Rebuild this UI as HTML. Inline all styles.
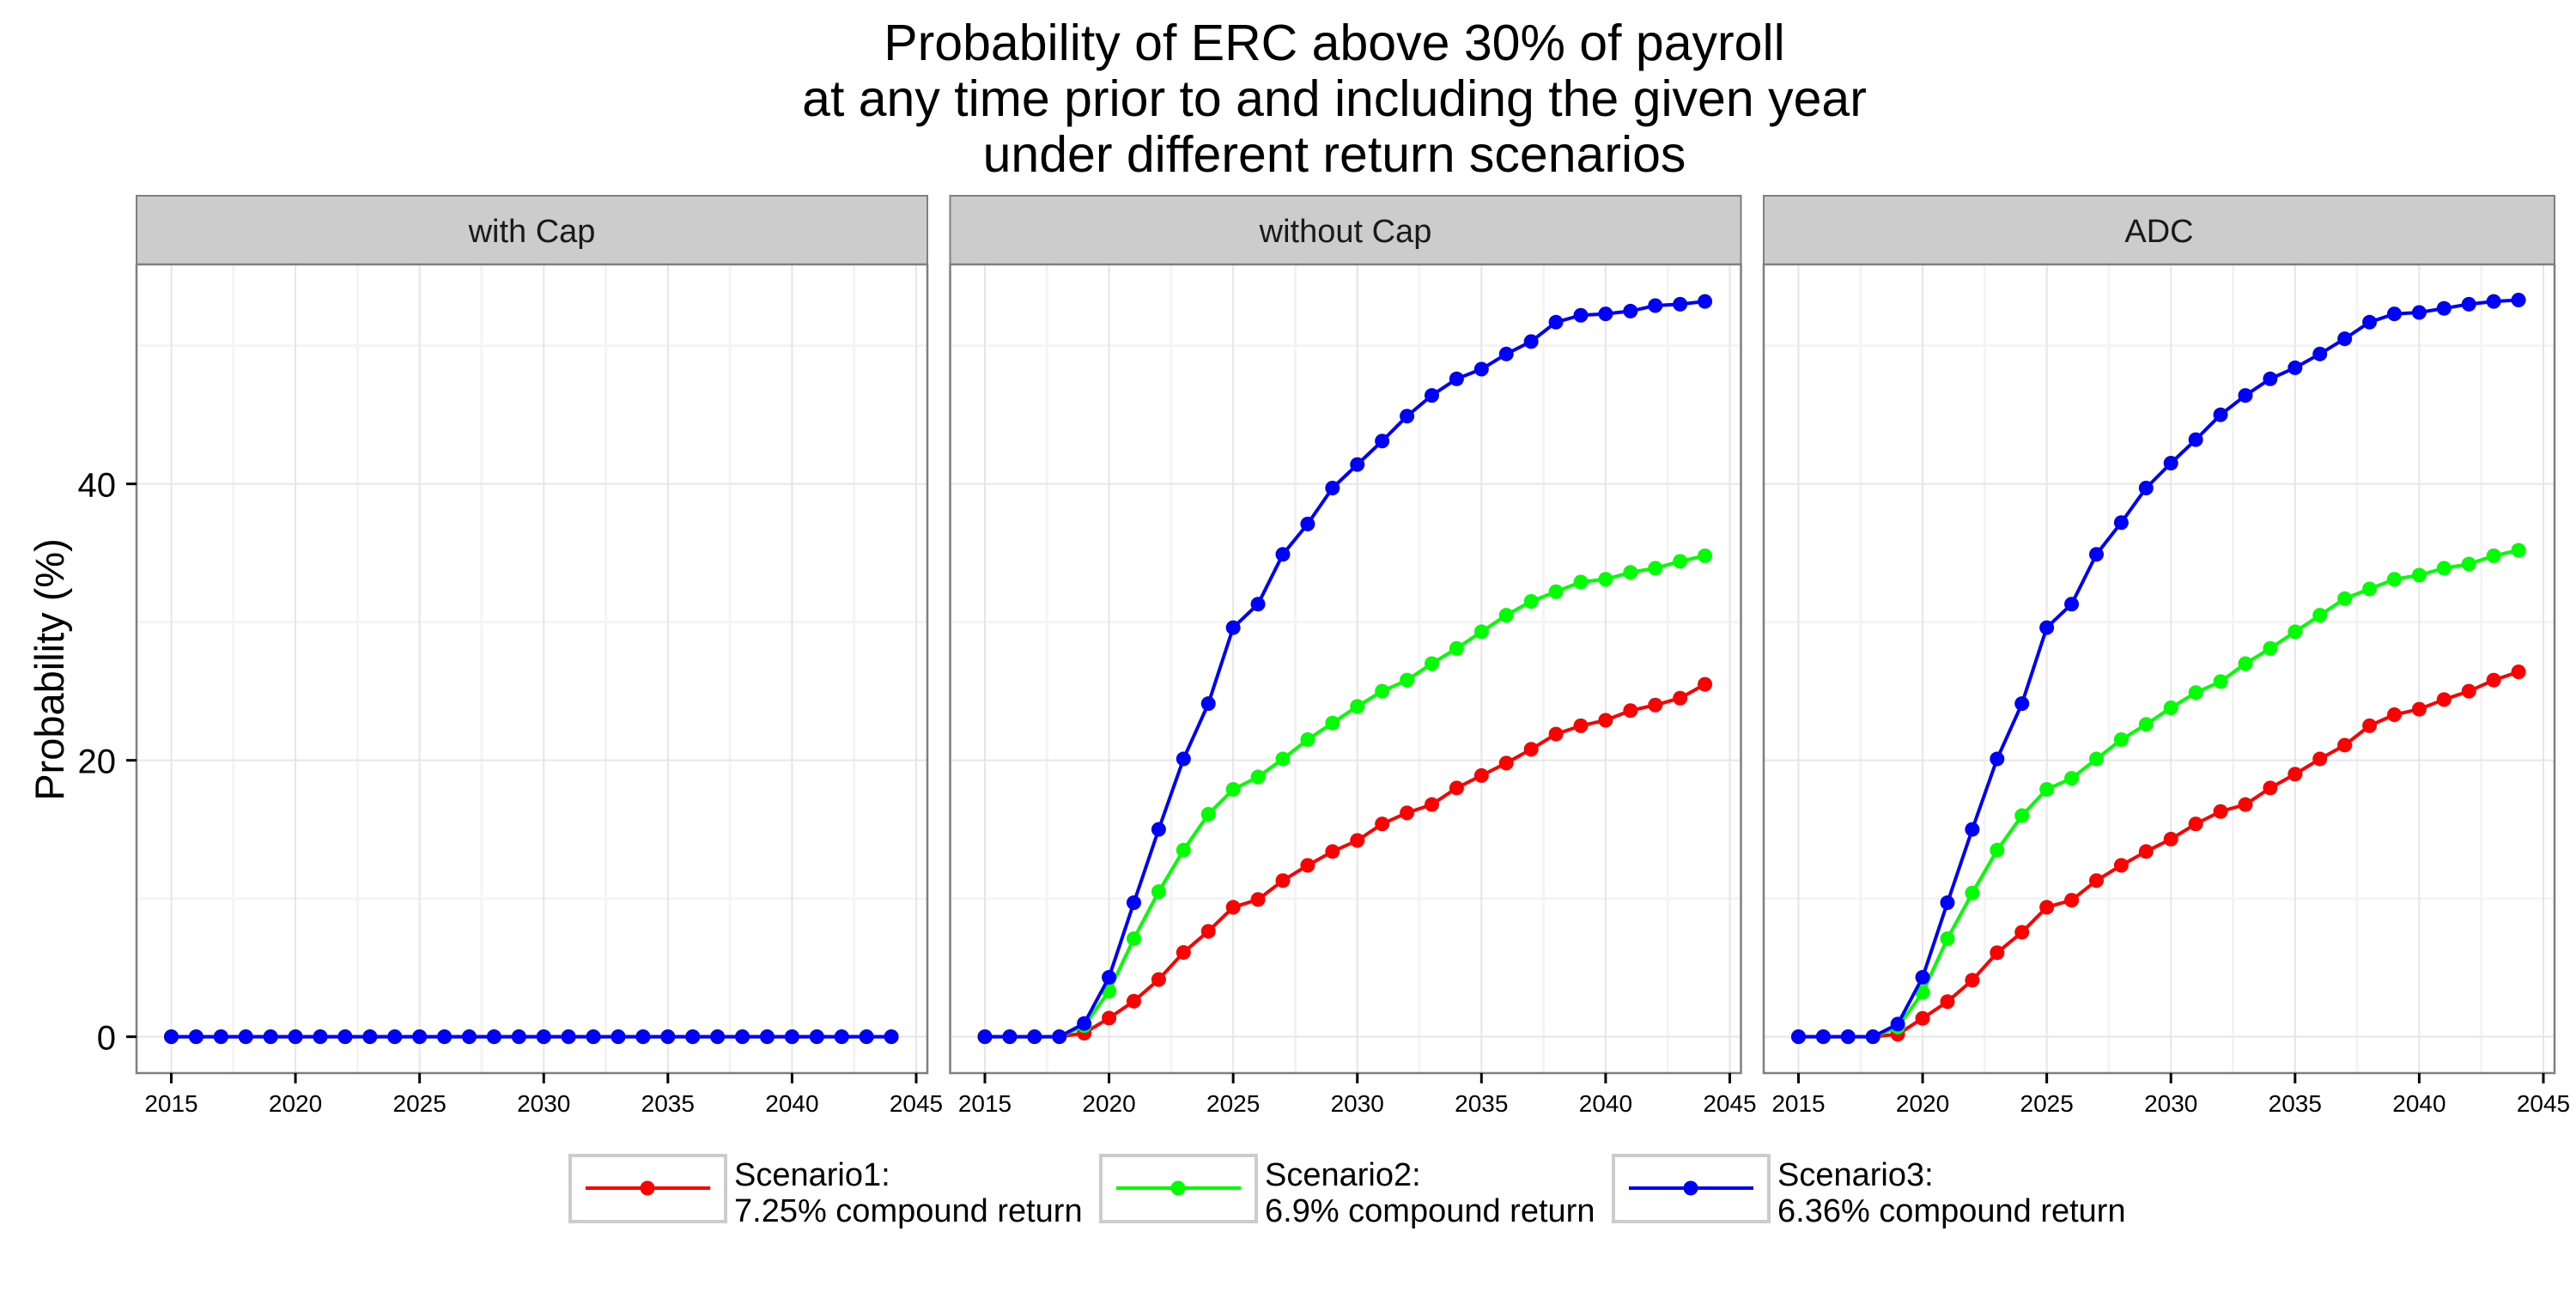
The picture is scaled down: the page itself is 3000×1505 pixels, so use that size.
<!DOCTYPE html>
<html><head><meta charset="utf-8"><style>
body{margin:0;background:#fff;}
svg text{font-family:"Liberation Sans",sans-serif;}
</style></head><body>
<svg id="chart" width="3000" height="1500" viewBox="0 0 3000 1500" xmlns="http://www.w3.org/2000/svg">
<rect width="3000" height="1500" fill="#fff"/>
<g font-size="59" text-anchor="middle" fill="#000">
<text x="1554" y="70">Probability of ERC above 30% of payroll</text>
<text x="1554" y="135">at any time prior to and including the given year</text>
<text x="1554" y="200">under different return scenarios</text>
</g>
<text transform="translate(74,780) rotate(-90)" font-size="47" text-anchor="middle">Probability (%)</text>
<g id="panels"></g>
<g id="legend"></g>
</svg>
<script>
const years = [];
for (let y = 2015; y <= 2044; y++) years.push(y);
const panelNames = ["with Cap", "without Cap", "ADC"];
const seriesNames = ["Scenario1", "Scenario2", "Scenario3"];
const seriesColors = ["#ff0000", "#00ff00", "#0000ff"];
const legendLabels = ["7.25% compound return", "6.9% compound return", "6.36% compound return"];
const xTicks = [2015, 2020, 2025, 2030, 2035, 2040, 2045];
const yTicks = [0, 20, 40];
const withCapS1 = [0,0,0,0,0,0,0,0,0,0,0,0,0,0,0,0,0,0,0,0,0,0,0,0,0,0,0,0,0,0];
const withCapS2 = [0,0,0,0,0,0,0,0,0,0,0,0,0,0,0,0,0,0,0,0,0,0,0,0,0,0,0,0,0,0];
const withCapS3 = [0,0,0,0,0,0,0,0,0,0,0,0,0,0,0,0,0,0,0,0,0,0,0,0,0,0,0,0,0,0];
const noCapS1 = [0,0,0,0,0.26,1.35,2.57,4.14,6.1,7.63,9.37,9.93,11.3,12.4,13.4,14.2,15.4,16.2,16.8,18.0,18.9,19.8,20.8,21.9,22.5,22.9,23.6,24.0,24.5,25.5];
const noCapS2 = [0,0,0,0,0.8,3.3,7.1,10.5,13.5,16.1,17.9,18.8,20.1,21.5,22.7,23.9,25.0,25.8,27.0,28.1,29.3,30.5,31.5,32.2,32.9,33.1,33.6,33.9,34.4,34.8];
const noCapS3 = [0,0,0,0,0.96,4.3,9.7,15.0,20.1,24.1,29.6,31.3,34.9,37.1,39.7,41.4,43.1,44.9,46.4,47.6,48.3,49.4,50.3,51.7,52.2,52.3,52.5,52.9,53.0,53.2];
const adcS1 = [0,0,0,0,0.18,1.33,2.54,4.09,6.08,7.56,9.37,9.88,11.3,12.4,13.4,14.3,15.4,16.3,16.8,18.0,19.0,20.1,21.1,22.5,23.3,23.7,24.4,25.0,25.8,26.4];
const adcS2 = [0,0,0,0,0.7,3.2,7.1,10.4,13.5,16.0,17.9,18.7,20.1,21.5,22.6,23.8,24.9,25.7,27.0,28.1,29.3,30.5,31.7,32.4,33.1,33.4,33.9,34.2,34.8,35.2];
const adcS3 = [0,0,0,0,0.92,4.3,9.7,15.0,20.1,24.1,29.6,31.3,34.9,37.2,39.7,41.5,43.2,45.0,46.4,47.6,48.4,49.4,50.5,51.7,52.3,52.4,52.7,53.0,53.2,53.3];

const panelData = [[withCapS1, withCapS2, withCapS3],[noCapS1, noCapS2, noCapS3],[adcS1, adcS2, adcS3]];
const NS = "http://www.w3.org/2000/svg";
function mk(tag, attrs, parent){const e=document.createElementNS(NS,tag);for(const k in attrs)e.setAttribute(k,attrs[k]);parent.appendChild(e);return e;}
const P0 = 159, PW = 921, PSTEP = 947.5, TOP = 308, BOT = 1250, STRIP = 228;
const xMin = 2013.6, xMax = 2045.45, yMin = -2.63, yMax = 55.88;
function yS(v){return BOT - (v - yMin)/(yMax - yMin)*(BOT-TOP);}
const panelsG = document.getElementById('panels');
panelNames.forEach((name, pi) => {
  const left = P0 + pi*PSTEP;
  const xS = v => left + (v - xMin)/(xMax - xMin)*PW;
  const g = mk('g', {}, panelsG);
  
  
  const strip = mk('rect', {x:left, y:STRIP, width:PW, height:TOP-STRIP, fill:'#cccccc', stroke:'#7f7f7f', 'stroke-width':2}, g);
  
  
  const st = mk('text', {x:left+PW/2, y:(STRIP+TOP)/2+14, 'font-size':38, 'text-anchor':'middle', fill:'#1a1a1a'}, g);
  st.textContent = name;
  
  
  for (let v = 10; v <= 50; v += 20) mk('line', {x1:left, x2:left+PW, y1:yS(v), y2:yS(v), stroke:'#f4f4f4', 'stroke-width':3}, g);
  for (let v = 2017.5; v < 2045; v += 5) mk('line', {x1:xS(v), x2:xS(v), y1:TOP, y2:BOT, stroke:'#f4f4f4', 'stroke-width':3}, g);
  yTicks.forEach(v => mk('line', {x1:left, x2:left+PW, y1:yS(v), y2:yS(v), stroke:'#e6e6e6', 'stroke-width':2}, g));
  xTicks.forEach(v => mk('line', {x1:xS(v), x2:xS(v), y1:TOP, y2:BOT, stroke:'#e6e6e6', 'stroke-width':2}, g));
  panelData[pi].forEach((vals, si) => {
    const sg = mk('g', {}, g);
    
    
    const pts = years.map((yr, i) => xS(yr) + ',' + yS(vals[i])).join(' ');
    const pl = mk('polyline', {points:pts, fill:'none', stroke:seriesColors[si], 'stroke-width':4}, sg);
    
    
    years.forEach((yr, i) => {
      const c = mk('circle', {cx:xS(yr), cy:yS(vals[i]), r:8.5, fill:seriesColors[si]}, sg);
      
      
    });
  });
  mk('rect', {x:left, y:TOP, width:PW, height:BOT-TOP, fill:'none', stroke:'#7f7f7f', 'stroke-width':2.5}, g);
  xTicks.forEach(v => {
    mk('line', {x1:xS(v), x2:xS(v), y1:BOT, y2:BOT+12, stroke:'#000', 'stroke-width':3}, g);
    const t = mk('text', {x:xS(v), y:BOT+45, 'font-size':28, 'text-anchor':'middle', fill:'#000'}, g);
    t.textContent = v;
    
    
  });
  if (pi === 0) {
    yTicks.forEach(v => {
      mk('line', {x1:left-12, x2:left, y1:yS(v), y2:yS(v), stroke:'#000', 'stroke-width':3}, g);
      const t = mk('text', {x:left-24, y:yS(v)+15, 'font-size':40, 'text-anchor':'end', fill:'#000'}, g);
      t.textContent = v;
      
      
    });
  }
});
const lg = document.getElementById('legend');
const legX = [664, 1282, 1879];
seriesNames.forEach((s, i) => {
  const eg = mk('g', {}, lg);
  
  
  const x = legX[i];
  mk('rect', {x:x, y:1346, width:181, height:77, fill:'#fff', stroke:'#cccccc', 'stroke-width':4}, eg);
  mk('line', {x1:x+18, x2:x+163, y1:1384, y2:1384, stroke:seriesColors[i], 'stroke-width':4}, eg);
  mk('circle', {cx:x+90, cy:1384, r:8.5, fill:seriesColors[i]}, eg);
  const t1 = mk('text', {x:x+191, y:1381, 'font-size':38, fill:'#000'}, eg);
  t1.textContent = s + ':';
  const t2 = mk('text', {x:x+191, y:1423, 'font-size':38, fill:'#000'}, eg);
  t2.textContent = legendLabels[i];
});
</script>
</body></html>
